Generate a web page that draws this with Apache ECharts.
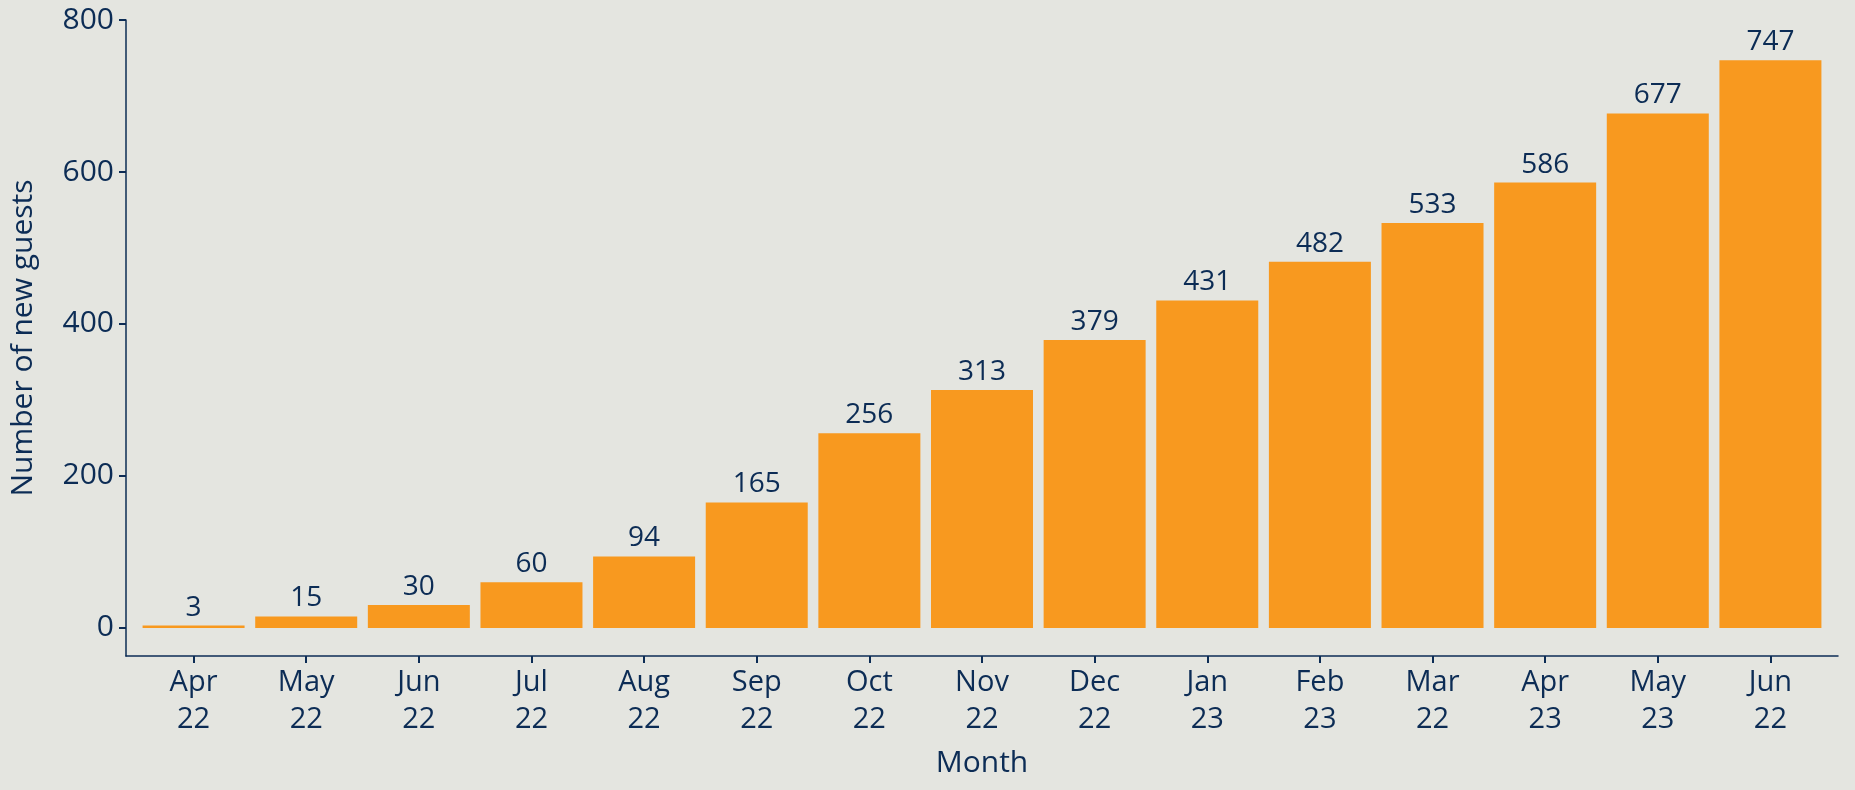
<!DOCTYPE html>
<html>
<head>
<meta charset="utf-8">
<script src="https://cdn.jsdelivr.net/npm/echarts@6/dist/echarts.min.js"></script>
<style>
  html, body {margin: 0; padding: 0; background: #e4e5e0;}
  #chart {width: 1855px; height: 790px;}
</style>
</head>
<body>
<div id="chart"></div>
<script>
  // 月份标签
  var months = ['Apr\n22', 'May\n22', 'Jun\n22', 'Jul\n22', 'Aug\n22', 'Sep\n22', 'Oct\n22', 'Nov\n22',
    'Dec\n22', 'Jan\n23', 'Feb\n23', 'Mar\n22', 'Apr\n23', 'May\n23', 'Jun\n22'];
  // 新客数
  var newGuests = [3, 15, 30, 60, 94, 165, 256, 313, 379, 431, 482, 533, 586, 677, 747];
  var yTicks = [0, 200, 400, 600, 800];

  var navy = '#0c2c55';
  var font = '"Open Sans", "Noto Sans", sans-serif';
  var monthIdx = months.map(function (m, i) { return i; });

  var chart = echarts.init(document.getElementById('chart'));
  chart.setOption({
    backgroundColor: '#e4e5e0',
    animation: false,
    textStyle: {fontFamily: font, color: navy},
    grid: {left: 123, right: 17, top: 20, bottom: 134},
    xAxis: {
      type: 'value',
      min: -0.6,
      max: 14.6,
      splitLine: {show: false},
      axisLine: {show: true, onZero: false, lineStyle: {color: navy, width: 1.5}},
      axisTick: {show: true, length: 7, lineStyle: {color: navy, width: 2}, customValues: monthIdx},
      axisLabel: {
        customValues: monthIdx,
        formatter: function (v) { return months[Math.round(v)]; },
        color: navy, fontSize: 29, lineHeight: 37, margin: 8, fontFamily: font
      },
      name: 'Month',
      nameLocation: 'middle',
      nameGap: 92,
      nameTextStyle: {color: navy, fontSize: 30, fontFamily: font}
    },
    yAxis: {
      type: 'value',
      min: -37,
      max: 800,
      splitLine: {show: false},
      axisLine: {show: true, onZero: false, lineStyle: {color: navy, width: 1.5}},
      axisTick: {show: true, length: 7, lineStyle: {color: navy, width: 2}, customValues: yTicks},
      axisLabel: {customValues: yTicks, color: navy, fontSize: 30, margin: 12, fontFamily: font},
      name: 'Number of new guests',
      nameLocation: 'middle',
      nameGap: 88,
      nameTextStyle: {color: navy, fontSize: 30, fontFamily: font}
    },
    series: [{
      type: 'bar',
      data: newGuests.map(function (v, i) { return [i, v]; }),
      barWidth: 102,
      itemStyle: {color: '#f8991f'},
      label: {show: true, position: 'top', distance: 4, color: navy, fontSize: 28, fontFamily: font}
    }]
  });
</script>
</body>
</html>
